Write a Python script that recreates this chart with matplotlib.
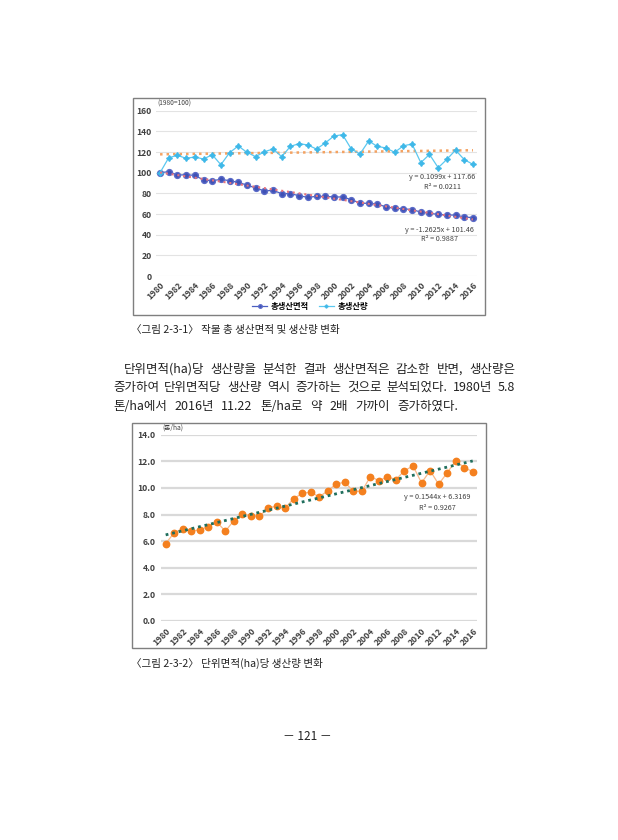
import numpy as np
import matplotlib
matplotlib.use("Agg")
import matplotlib.pyplot as plt
from matplotlib.patches import Rectangle

plt.rcParams["font.family"] = ["Noto Sans CJK KR", "DejaVu Sans"]

# ── Data ────────────────────────────────────────────────────────────────────
years = list(range(1980, 2017))
year_labels = [str(y) for y in years[::2]]

area_index = [100, 101, 97.7, 98, 97.4, 92.9, 92.3, 93.5, 92.3, 90.6,
              88, 85.2, 82.3, 82.9, 79.7, 79.7, 77.7, 76.1, 77.1, 77.1,
              76.5, 76.5, 73.9, 70.6, 70.3, 69.7, 66.8, 65.5, 65.2, 64.2,
              61.9, 60.6, 59.7, 59, 59, 57.1, 56.5]
prod_index = [100, 114.5, 116.8, 113.9, 115.2, 113.2, 117.4, 107.7, 119.4, 125.8,
              119.7, 115.5, 120.3, 122.9, 115.5, 125.5, 128.1, 126.8, 122.9, 128.7,
              135.5, 136.8, 122.9, 118.1, 130.6, 125.5, 123.9, 119.7, 126.1, 127.7,
              109.7, 117.7, 104.8, 112.9, 121.9, 112.6, 108.1]
yield_ton = [5.82, 6.63, 6.95, 6.75, 6.85, 7.1, 7.43, 6.75, 7.55, 8.05,
             7.9, 7.88, 8.5, 8.63, 8.48, 9.18, 9.6, 9.68, 9.33, 9.78,
             10.3, 10.43, 9.75, 9.75, 10.85, 10.55, 10.83, 10.63, 11.3, 11.65,
             10.38, 11.3, 10.28, 11.13, 12.05, 11.53, 11.22]

# Excel trendline equations shown on the charts (x = 1..37)
area_trend = (-1.2625, 101.46)
prod_trend = (0.1099, 117.66)
yield_trend = (0.1544, 6.3169)

W, H = 618, 840
fig = plt.figure(figsize=(W / 100, H / 100), dpi=100)


def fx(px):
    return px / W


def fy(py):
    return 1 - py / H


def frame(x0, y0, x1, y1):
    fig.patches.append(Rectangle((fx(x0), fy(y1)), fx(x1 - x0), (y1 - y0) / H,
                                 transform=fig.transFigure, fill=False,
                                 edgecolor="#7f7f7f", linewidth=1.0))


tick_kw = dict(fontsize=6.2, fontweight="bold", color="#404040")
note_kw = dict(fontsize=5.2, color="#404040", ha="center", va="center")
x = np.arange(len(years))
t = x + 1

# ── Chart 1 ─────────────────────────────────────────────────────────────────
frame(133, 98, 485, 315)
ax1 = fig.add_axes([fx(155.7), fy(276), fx(477.3 - 155.7), (276 - 110.7) / H])
ax1.plot(x, prod_trend[0] * t + prod_trend[1], linestyle=(0, (1, 1.6)),
         color="#F4A261", linewidth=1.8, zorder=2)
l1, = ax1.plot(x, area_index, color="#4A5FC1", linewidth=0.9, marker="o",
               markersize=4.2, markerfacecolor="#3F51B5",
               markeredgecolor="#5B6BC8", zorder=3, label="총생산면적")
ax1.plot(x, area_trend[0] * t + area_trend[1], linestyle=(0, (1, 1.8)),
         color="#E8747C", linewidth=1.5, zorder=4)
l2, = ax1.plot(x, prod_index, color="#5BC8F0", linewidth=0.9, marker=(4, 1, 0),
               markersize=4.2, markerfacecolor="#3FB8E8", markeredgecolor="#3FB8E8",
               zorder=3, label="총생산량")
ax1.set_ylim(0, 160)
ax1.set_xlim(-0.5, len(years) - 0.5)
ax1.set_yticks(range(0, 161, 20))
ax1.set_yticklabels([str(v) for v in range(0, 161, 20)], **tick_kw)
ax1.set_xticks(x[::2])
ax1.set_xticklabels(year_labels, rotation=45, ha="right", rotation_mode="anchor",
                    **tick_kw)
ax1.grid(axis="y", color="#E3E3E3", linewidth=0.8)
ax1.set_axisbelow(True)
for s in ax1.spines.values():
    s.set_visible(False)
ax1.tick_params(length=0, pad=3)
ax1.text(-0.3, 167, "(1980=100)", fontsize=4.8, color="#404040", va="center")
ax1.text(32.5, 96, "y = 0.1099x + 117.66", **note_kw)
ax1.text(32.5, 86.5, "R² = 0.0211", **note_kw)
ax1.text(32.1, 44.5, "y = -1.2625x + 101.46", **note_kw)
ax1.text(32.1, 35.5, "R² = 0.9887", **note_kw)
fig.legend(handles=[l1, l2], loc="center", bbox_to_anchor=(fx(310), fy(306)),
           ncol=2, frameon=False, prop={"size": 6, "weight": "bold"},
           handlelength=1.8, columnspacing=1.2, handletextpad=0.4,
           markerscale=0.6)

# ── Chart 2 ─────────────────────────────────────────────────────────────────
frame(132, 423, 486, 648)
ax2 = fig.add_axes([fx(161.4), fy(621), fx(477 - 161.4), (621 - 434.7) / H])
ax2.plot(x, yield_ton, color="#F9B98A", linewidth=0.9, marker="o",
         markersize=4.6, markerfacecolor="#F4801F", markeredgecolor="#F4801F",
         zorder=3)
ax2.plot(x, yield_trend[0] * t + yield_trend[1], linestyle=(0, (1, 1.4)),
         color="#1F6E5C", linewidth=2.0, zorder=4)
ax2.set_ylim(0, 14)
ax2.set_xlim(-0.5, len(years) - 0.5)
ax2.set_yticks(np.arange(0, 14.1, 2))
ax2.set_yticklabels([f"{v:.1f}" for v in np.arange(0, 14.1, 2)], **tick_kw)
ax2.set_xticks(x[::2])
ax2.set_xticklabels(year_labels, rotation=45, ha="right", rotation_mode="anchor",
                    **tick_kw)
ax2.grid(axis="y", color="#D9D9D9", linewidth=1.6)
ax2.set_axisbelow(True)
for s in ax2.spines.values():
    s.set_visible(False)
ax2.tick_params(length=0, pad=4)
ax2.text(-0.4, 14.55, "(톤/ha)", fontsize=4.8, color="#404040", va="center")
ax2.text(31.8, 9.32, "y = 0.1544x + 6.3169", **note_kw)
ax2.text(31.8, 8.5, "R² = 0.9267", **note_kw)

# ── Page text ───────────────────────────────────────────────────────────────
fig.text(fx(131), fy(330), "〈그림 2-3-1〉 작물 총 생산면적 및 생산량 변화",
         fontsize=7.6, color="#222222", va="center")
fig.text(fx(131), fy(663), "〈그림 2-3-2〉 단위면적(ha)당 생산량 변화",
         fontsize=7.6, color="#222222", va="center")
fig.text(fx(307), fy(737), "－ 121 －", fontsize=8.5, color="#222222",
         ha="center", va="center")

para = [
    ("단위면적(ha)당 생산량을 분석한 결과 생산면적은 감소한 반면, 생산량은", 124, 369, True),
    ("증가하여 단위면적당 생산량 역시 증가하는 것으로 분석되었다. 1980년 5.8", 113, 387.5, True),
    ("톤/ha에서 2016년 11.22 톤/ha로 약 2배 가까이 증가하였다.", 113, 406, False),
]
renderer = fig.canvas.get_renderer()
right_edge = 515
for line, x0, y0, justify in para:
    words = line.split(" ")
    texts = [fig.text(0, fy(y0), w, fontsize=9.0, color="#222222", va="center")
             for w in words]
    widths = [tx.get_window_extent(renderer).width for tx in texts]
    if justify:
        gap = (right_edge - x0 - sum(widths)) / (len(words) - 1)
    else:
        gap = 7.5
    pos = x0
    for tx, w in zip(texts, widths):
        tx.set_x(fx(pos))
        pos += w + gap

fig.savefig("out.png", dpi=100, facecolor="white")
